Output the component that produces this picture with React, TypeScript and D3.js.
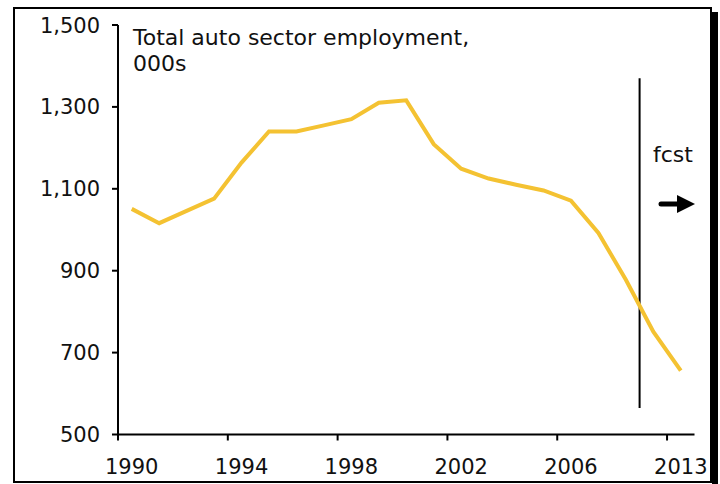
import React from "react";
import * as d3 from "d3";

// Total auto sector employment, 000s (one value per category)
const employment = [
  1051, 1016, 1046, 1076, 1164, 1240, 1240, 1255, 1270, 1310, 1316,
  1209, 1149, 1125, 1110, 1096, 1071, 992, 878, 751, 656,
];
// Labelled categories (every 4th) and their labels
const labelIndex = [0, 4, 8, 12, 16, 20];
const tickLabels = ["1990", "1994", "1998", "2002", "2006", "2013"];
const yTicks = [500, 700, 900, 1100, 1300, 1500];
const forecastStartIndex = 19;
const forecastLineRange = [565, 1370];
const titleLines = ["Total auto sector employment,", "000s"];

const W = 720;
const H = 484;
const FONT = "'DejaVu Sans', Verdana, sans-serif";
const LINE_COLOR = "#F4C232";

export default function App() {
  const categories = employment.map((_, i) => i);
  const x = d3.scaleBand<number>().domain(categories).range([118, 694.5]).padding(0);
  const y = d3.scaleLinear().domain([500, 1500]).range([434.5, 25]);
  const bw = x.bandwidth();
  const cx = (i: number) => (x(i) as number) + bw / 2;

  const line = d3
    .line<number>()
    .x((_, i) => cx(i))
    .y((d) => y(d));

  const fmt = d3.format(",");
  const axisY = y(500);
  const x0 = x(0) as number;
  const xEnd = (x(categories[categories.length - 1]) as number) + bw;
  const fx = x(forecastStartIndex) as number;

  return (
    <svg
      width={W}
      height={H}
      style={{ position: "absolute", left: 0, top: 0, background: "#fff" }}
      fontFamily={FONT}
    >
      {/* frame with shadow */}
      <rect x={712} y={12} width={6} height={H - 12} fill="#000" />
      <rect x={14} y={8} width={697} height={474} fill="#fff" stroke="#000" strokeWidth={2} />

      {/* title */}
      {titleLines.map((t, i) => (
        <text key={t} x={133} y={45 + i * 25.5} fontSize={22} fill="#111">
          {t}
        </text>
      ))}

      {/* y axis */}
      <line x1={x0} x2={x0} y1={y(1500)} y2={axisY + 6} stroke="#000" strokeWidth={2} />
      {yTicks.map((t) => (
        <g key={t}>
          <line x1={x0 - 6} x2={x0} y1={y(t)} y2={y(t)} stroke="#000" strokeWidth={2} />
          <text x={100} y={y(t) + 7.5} textAnchor="end" fontSize={21} fill="#111">
            {fmt(t)}
          </text>
        </g>
      ))}

      {/* x axis */}
      <line x1={x0} x2={xEnd} y1={axisY} y2={axisY} stroke="#000" strokeWidth={2} />
      {labelIndex.slice(1).map((c) => (
        <line
          key={c}
          x1={x(c) as number}
          x2={x(c) as number}
          y1={axisY}
          y2={axisY + 6}
          stroke="#000"
          strokeWidth={2}
        />
      ))}
      {labelIndex.map((c, i) => (
        <text key={c} x={cx(c)} y={474} textAnchor="middle" fontSize={21} fill="#111">
          {tickLabels[i]}
        </text>
      ))}

      {/* forecast marker */}
      <line
        x1={fx}
        x2={fx}
        y1={y(forecastLineRange[1])}
        y2={y(forecastLineRange[0])}
        stroke="#000"
        strokeWidth={2}
      />
      <text x={653} y={162} fontSize={22} fill="#111">
        fcst
      </text>
      <line x1={661} x2={679} y1={204} y2={204} stroke="#000" strokeWidth={5} strokeLinecap="round" />
      <path d="M677,195 L695,204 L677,213 Z" fill="#000" />

      {/* data line */}
      <path d={line(employment) || ""} fill="none" stroke={LINE_COLOR} strokeWidth={4} />
    </svg>
  );
}
